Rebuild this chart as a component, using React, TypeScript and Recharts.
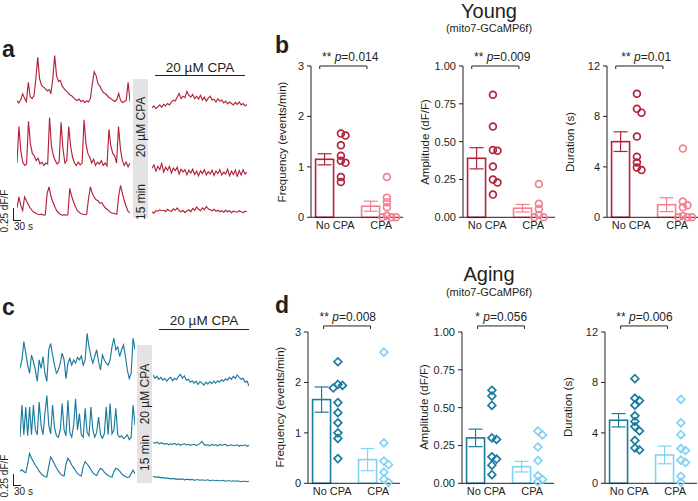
import React from 'react'
import { ComposedChart, LineChart, Line, Bar, Scatter, ErrorBar, XAxis, YAxis, ReferenceLine } from 'recharts'

const FONT = 'Arial, "Liberation Sans", Helvetica, sans-serif'
const INK = '#231f20'
const RED = '#b5213a'
const PINK = '#f2818f'
const TEAL = '#1b7b9e'
const SKY = '#80d3f4'

// ---- calcium traces (dF/F above resting level, one sample ~ every 7 s) ----
const youngBefore1 = [0.10,0.05,0.12,0.24,0.15,0.08,0.48,0.18,0.14,0.20,0.55,1.00,0.55,0.42,0.38,0.35,0.30,0.33,0.25,0.55,1.04,0.62,0.50,0.52,0.40,0.35,0.30,0.27,0.22,0.20,0.16,0.12,0.10,0.13,0.08,0.10,0.06,0.09,0.07,0.15,0.45,0.70,0.62,0.45,0.40,0.32,0.26,0.24,0.20,0.16,0.14,0.10,0.08,0.12,0.25,0.10,0.06,0.08,0.10,0.48,0.08]
const youngBefore2 = [0.10,0.86,0.35,0.12,0.05,0.08,0.97,0.50,0.30,0.25,0.15,0.20,0.08,0.12,0.05,0.10,0.08,1.05,0.45,0.25,0.15,0.08,0.12,0.95,0.40,0.10,0.15,0.86,0.45,0.22,0.10,0.05,0.12,0.06,0.10,1.00,0.50,0.30,0.22,0.10,0.18,0.05,0.12,0.08,0.15,0.05,0.10,0.04,0.80,0.45,0.30,0.25,0.10,0.86,0.40,0.15,0.05,0.12,0.02,0.10]
const youngBefore3 = [0.15,0.38,0.20,0.10,0.38,0.30,0.22,0.15,0.10,0.06,0.04,0.02,0.01,0.02,0.00,0.01,0.45,0.59,0.40,0.28,0.18,0.10,0.05,0.02,0.00,0.01,0.00,0.01,0.56,0.40,0.28,0.18,0.10,0.06,0.03,0.02,0.01,0.02,0.35,0.59,0.45,0.38,0.32,0.30,0.25,0.26,0.20,0.15,0.12,0.08,0.05,0.04,0.03,0.02,0.40,0.62,0.45,0.30,0.18,0.08,0.05]
const youngAfter1 = [-0.04,0.00,-0.06,-0.02,0.02,-0.03,0.03,0.00,0.05,0.02,0.08,0.12,0.10,0.18,0.26,0.15,0.20,0.17,0.30,0.22,0.18,0.24,0.15,0.20,0.14,0.22,0.12,0.18,0.10,0.16,0.20,0.12,0.14,0.08,0.15,0.10,0.12,0.06,0.10,0.04,0.08,0.05,0.02,0.07,0.03,0.08,0.02,0.05,0.00,0.03]
const youngAfter2 = [0.08,0.15,0.02,0.12,0.05,0.18,0.00,0.10,0.04,0.12,-0.02,0.08,0.03,0.10,-0.04,0.06,0.00,0.05,-0.06,0.04,-0.02,0.06,-0.05,0.02,-0.08,0.03,-0.03,0.05,-0.06,0.01,-0.04,0.04,-0.07,0.02,-0.03,0.05,-0.06,0.00,-0.04,0.06,-0.08,0.02,-0.05,0.04,-0.09,0.03,-0.06,0.05,-0.04,0.00]
const youngAfter3 = [0.00,-0.03,0.02,0.01,0.04,0.02,0.03,0.00,0.05,0.02,0.01,0.06,0.03,0.08,0.02,0.00,0.03,-0.02,0.02,0.04,0.00,0.07,0.03,0.10,0.05,0.02,0.08,0.04,0.11,0.06,0.04,0.02,0.05,0.01,0.03,0.00,0.02,-0.01,0.03,0.00,0.02,-0.02,0.01,0.00,-0.01,0.02,0.00,-0.02,0.01,0.00]

const agingBefore1 = [0.24,0.42,0.80,0.56,0.31,0.14,0.52,0.38,0.21,-0.03,0.42,0.24,0.49,0.14,-0.03,0.63,0.76,0.52,0.31,0.14,0.21,0.35,0.56,0.42,0.03,0.35,0.45,0.31,0.42,0.35,0.47,0.42,0.50,0.31,0.42,0.97,0.69,0.49,0.35,0.49,0.63,0.38,0.21,0.52,0.42,0.35,0.31,0.42,0.69,0.87,0.63,0.69,0.49,0.63,0.73,0.49,0.21,0.03,0.14,0.87,0.63]
const agingBefore2 = [0.05,0.72,0.10,0.68,0.08,0.68,0.10,0.72,0.20,0.10,0.78,0.30,0.10,0.55,0.92,0.30,0.12,0.72,0.25,0.08,0.05,0.20,0.75,0.20,0.08,0.82,0.15,0.05,0.30,0.85,0.20,0.54,0.10,0.05,0.65,0.15,0.08,0.68,0.20,0.05,0.15,0.47,0.10,0.03,0.12,0.68,0.10,0.75,0.12,0.20,0.65,0.10,0.05,0.08,0.02,0.05,0.10,0.00,0.05,0.72,0.30]
const agingBefore3 = [0.15,0.18,0.14,0.12,0.30,0.52,0.42,0.35,0.28,0.22,0.15,0.10,0.06,0.04,0.03,0.25,0.45,0.38,0.30,0.22,0.15,0.10,0.06,0.05,0.30,0.42,0.36,0.28,0.22,0.16,0.10,0.07,0.05,0.25,0.35,0.30,0.25,0.18,0.12,0.08,0.06,0.15,0.21,0.18,0.13,0.09,0.06,0.04,0.03,0.14,0.21,0.19,0.15,0.10,0.06,0.04,0.02,0.03,0.10,0.17,0.10]
const agingAfter1 = [0.17,0.10,0.14,0.08,0.12,0.06,0.10,0.04,0.09,0.12,0.05,0.10,0.07,0.14,0.18,0.10,0.15,0.06,0.08,0.02,0.05,0.00,0.04,-0.03,0.03,0.00,-0.04,0.02,-0.02,0.03,-0.01,0.04,0.00,0.05,0.02,0.07,0.04,0.09,0.06,0.12,0.08,0.14,0.10,0.17,0.12,0.08,0.10,0.02,0.04,-0.06]
const agingAfter2 = [0.06,0.04,0.07,0.03,0.05,0.04,0.02,0.04,0.01,0.03,0.02,0.04,0.01,0.03,0.00,0.02,0.03,0.01,0.02,0.00,0.01,0.02,0.00,0.01,0.04,0.08,0.02,0.00,0.01,-0.01,0.02,0.00,0.01,-0.01,0.02,0.00,0.01,0.02,-0.01,0.00,0.01,-0.01,0.00,0.01,-0.02,0.00,-0.01,0.01,-0.02,0.00]
const agingAfter3 = [0.10,0.09,0.08,0.09,0.07,0.08,0.06,0.07,0.06,0.05,0.06,0.05,0.04,0.05,0.04,0.05,0.03,0.04,0.04,0.03,0.04,0.02,0.03,0.03,0.02,0.03,0.02,0.02,0.03,0.01,0.02,0.02,0.01,0.02,0.01,0.01,0.02,0.00,0.01,0.01,0.00,0.01,0.00,0.01,0.00,-0.01,0.00,0.00,-0.01,0.00]

// ---- summary stats ----
const groups = ['No CPA', 'CPA']

const youngFreqNo = [1.66, 1.62, 1.43, 1.22, 1.12, 1.08, 0.8, 0.7]
const youngFreqCpa = [0.8, 0.39, 0.3, 0.2, 0.03, 0, 0, 0]
const youngFreqMean = [1.15, 0.22]
const youngFreqSem = [0.11, 0.1]

const youngAmpNo = [0.81, 0.6, 0.445, 0.44, 0.335, 0.25, 0.23, 0.15]
const youngAmpCpa = [0.22, 0.09, 0.055, 0.015, 0, 0]
const youngAmpMean = [0.39, 0.06]
const youngAmpSem = [0.07, 0.025]

const youngDurNo = [9.8, 8.6, 8.3, 6.4, 4.8, 4.35, 3.95, 3.75]
const youngDurCpa = [5.45, 1.25, 0.95, 0.8, 0.1, 0, 0, 0]
const youngDurMean = [6.0, 1.0]
const youngDurSem = [0.78, 0.55]

const agingFreqNo = [2.41, 1.96, 1.94, 1.89, 1.6, 1.4, 1.2, 1.0, 0.89, 0.49]
const agingFreqCpa = [2.6, 0.8, 0.44, 0.37, 0.22, 0.08, 0.02]
const agingFreqMean = [1.66, 0.47]
const agingFreqSem = [0.25, 0.22]

const agingAmpNo = [0.615, 0.577, 0.515, 0.3, 0.29, 0.175, 0.16, 0.12, 0.057]
const agingAmpCpa = [0.345, 0.32, 0.24, 0.15, 0.05, 0.025, 0.01]
const agingAmpMean = [0.3, 0.11]
const agingAmpSem = [0.058, 0.035]

const agingDurNo = [8.3, 6.75, 6.55, 6.2, 5.35, 4.9, 4.5, 4.15, 3.4, 2.8, 2.65]
const agingDurCpa = [6.65, 4.8, 3.86, 2.75, 2.6, 1.83, 1.65, 0.55, 0.08]
const agingDurMean = [5.0, 2.25]
const agingDurSem = [0.53, 0.7]

const freqTicks = [0, 1, 2, 3]
const ampTicks = [0, 0.25, 0.5, 0.75, 1]
const durTicks = [0, 4, 8, 12]

// ---- layout helpers ----
const PX = 48 // px per 1 dF/F (scale bar 0.25 dF/F ~ 12 px)
const PLOT_W = 92
const PLOT_H = 151.3
const GROUP_X = [1.05, 3.05]
const BAR_OFF = -0.45
const PT_OFF = 0.25
const BAR_W = 18

function Txt({ x, y, size = 11, anchor = 'start', bold = false, color = INK, children }: any) {
  const shift = anchor === 'middle' ? 'translateX(-50%)' : anchor === 'end' ? 'translateX(-100%)' : undefined
  return (
    <div style={{ position: 'absolute', left: x, top: y - 0.8465 * size, fontSize: size, lineHeight: 1, fontWeight: bold ? 700 : 400,
      color, whiteSpace: 'nowrap', transform: shift, fontFamily: FONT }}>{children}</div>
  )
}

function VTxt({ x, y, size = 11, color = INK, children }: any) {
  return (
    <div style={{ position: 'absolute', left: x, top: y, fontSize: size, lineHeight: 1, color, whiteSpace: 'nowrap',
      transform: 'translate(-50%,-50%) rotate(-90deg)', fontFamily: FONT }}>{children}</div>
  )
}

function Trace({ values, color, left, width, base }: any) {
  const lo = Math.min(...values) - 0.03
  const hi = Math.max(...values) + 0.03
  const height = (hi - lo) * PX
  const data = values.map((v: number, i: number) => ({ i, v }))
  return (
    <div style={{ position: 'absolute', left, top: base - hi * PX, width, height }}>
      <LineChart width={width} height={height} data={data} margin={{ top: 0, right: 0, bottom: 0, left: 0 }}>
        <XAxis dataKey="i" type="number" domain={[0, values.length - 1]} hide />
        <YAxis type="number" domain={[lo, hi]} hide />
        <Line type="linear" dataKey="v" stroke={color} strokeWidth={1.15} dot={false} isAnimationActive={false} />
      </LineChart>
    </div>
  )
}

// nudge overlapping points sideways (deterministic beeswarm, overlap allowed a little)
function swarm(vals: number[], max: number, center: number) {
  const placed: { x: number; y: number }[] = []
  ;[...vals].sort((a, b) => b - a).forEach(v => {
    const steps = [0, 0.2, -0.2, 0.4]
    const ok = (s: number) => placed.every(p => {
      const dx = (p.x - (center + s)) * (PLOT_W / 4)
      const dy = (p.y - v) / max * PLOT_H
      return Math.hypot(dx, dy) > 4.5
    })
    const off = steps.find(ok) ?? 0.1
    placed.push({ x: center + off, y: v })
  })
  return placed
}

function Stat({ axisX, plotTop, ticks, fmt, label, labelDx, no, cpa, mean, sem, dark, light, marker, p, stars, bracket }: any) {
  const max = ticks[ticks.length - 1]
  const barData = [
    { x: GROUP_X[0] + BAR_OFF, y: mean[0], eDark: sem[0] },
    { x: GROUP_X[1] + BAR_OFF, y: mean[1], eLight: sem[1] },
  ]
  const ptsNo = swarm(no, max, GROUP_X[0] + PT_OFF)
  const ptsCpa = swarm(cpa, max, GROUP_X[1] + PT_OFF)
  const shape = (color: string) => (s: any) => marker === 'circle'
    ? <circle cx={s.cx} cy={s.cy} r={3.4} fill="none" stroke={color} strokeWidth={1.7} />
    : <path d={`M${s.cx},${s.cy - 3.9}L${s.cx + 3.9},${s.cy}L${s.cx},${s.cy + 3.9}L${s.cx - 3.9},${s.cy}Z`} fill="none" stroke={color} strokeWidth={1.7} />
  const barShape = (s: any) => {
    const color = s.payload && s.payload.eDark != null ? dark : light
    const cx = s.x + s.width / 2
    return <rect x={cx - BAR_W / 2} y={s.y} width={BAR_W} height={Math.max(0, s.height)} fill="#fff" stroke={color} strokeWidth={1.6} />
  }
  const by = max * bracket.y
  const tk = max * 0.02
  const tickStyle = { fill: INK, fontSize: 11, fontFamily: FONT }
  return (
    <>
      <div style={{ position: 'absolute', left: axisX - 40, top: plotTop - 20 }}>
        <ComposedChart width={40 + PLOT_W + 3} height={20 + PLOT_H + 22} data={barData} margin={{ top: 20, right: 3, bottom: 0, left: 0 }}>
          <XAxis type="number" dataKey="x" domain={[0, 4]} ticks={GROUP_X} height={22} tickSize={0} tickMargin={4}
            tickFormatter={(v: number) => groups[GROUP_X.findIndex(g => Math.abs(g - v) < 0.01)]}
            tick={tickStyle} axisLine={{ stroke: INK, strokeWidth: 1 }} tickLine={false} allowDataOverflow />
          <YAxis type="number" domain={[0, max]} ticks={ticks} width={40} tickSize={4} tickMargin={3}
            tickFormatter={fmt} tick={tickStyle} axisLine={{ stroke: INK, strokeWidth: 1 }} tickLine={{ stroke: INK }} />
          <Bar dataKey="y" barSize={BAR_W} shape={barShape} isAnimationActive={false}>
            <ErrorBar dataKey="eDark" direction="y" width={7} stroke={dark} strokeWidth={1.2} />
            <ErrorBar dataKey="eLight" direction="y" width={7} stroke={light} strokeWidth={1.2} />
          </Bar>
          <Scatter data={ptsNo} dataKey="y" shape={shape(dark)} isAnimationActive={false} />
          <Scatter data={ptsCpa} dataKey="y" shape={shape(light)} isAnimationActive={false} />
          <ReferenceLine segment={[{ x: bracket.x0, y: by }, { x: bracket.x1, y: by }]} stroke={INK} strokeWidth={1} ifOverflow="visible" />
          <ReferenceLine segment={[{ x: bracket.x0, y: by }, { x: bracket.x0, y: by - tk }]} stroke={INK} strokeWidth={1} ifOverflow="visible" />
          <ReferenceLine segment={[{ x: bracket.x1, y: by }, { x: bracket.x1, y: by - tk }]} stroke={INK} strokeWidth={1} ifOverflow="visible" />
        </ComposedChart>
      </div>
      <VTxt x={axisX + labelDx} y={plotTop + PLOT_H / 2} size={11.5}>{label}</VTxt>
      <Txt x={axisX + 39.5} y={plotTop - 5 - (bracket.y > 1 ? 6 : 0)} size={12} anchor="middle">
        {stars} <i>p</i>={p}
      </Txt>
    </>
  )
}

const fmtInt = (v: number) => String(v)
const fmtAmp = (v: number) => v.toFixed(2)

export default function App() {
  const topB = { x0: 0.38, x1: 2.43, y: 1 }
  const botB = { x0: 0.68, x1: 2.72, y: 1.04 }
  return (
    <div style={{ position: 'absolute', left: 0, top: 0, width: 698, height: 501, overflow: 'hidden', background: '#fff', fontFamily: FONT }}>
      {/* panel a */}
      <Txt x={2} y={57} size={23} bold>a</Txt>
      <Trace values={youngBefore1} color={RED} left={17} width={113} base={105} />
      <Trace values={youngBefore2} color={RED} left={17} width={113} base={168.3} />
      <Trace values={youngBefore3} color={RED} left={17} width={113} base={215} />
      <Trace values={youngAfter1} color={RED} left={152} width={95} base={106} />
      <Trace values={youngAfter2} color={RED} left={152} width={95} base={171.7} />
      <Trace values={youngAfter3} color={RED} left={152} width={95} base={211.7} />
      <div style={{ position: 'absolute', left: 133, top: 79, width: 15, height: 139, background: '#e3e3e3' }} />
      <VTxt x={141} y={127} size={12}>20 µM CPA</VTxt>
      <VTxt x={141} y={202} size={12}>15 min</VTxt>
      <Txt x={200} y={72} size={13.5} anchor="middle">20 µM CPA</Txt>
      <div style={{ position: 'absolute', left: 155, top: 75, width: 90, height: 1.2, background: INK }} />
      <div style={{ position: 'absolute', left: 12.5, top: 208, width: 1, height: 12, background: INK }} />
      <div style={{ position: 'absolute', left: 12.5, top: 219.5, width: 8.5, height: 1, background: INK }} />
      <VTxt x={5} y={211} size={10}>0.25 dF/F</VTxt>
      <Txt x={14} y={230} size={10}>30 s</Txt>

      {/* panel c */}
      <Txt x={2} y={315} size={23} bold>c</Txt>
      <Trace values={agingBefore1} color={TEAL} left={20} width={115} base={380} />
      <Trace values={agingBefore2} color={TEAL} left={20} width={115} base={439.3} />
      <Trace values={agingBefore3} color={TEAL} left={20} width={115} base={478.3} />
      <Trace values={agingAfter1} color={TEAL} left={153} width={96} base={383.3} />
      <Trace values={agingAfter2} color={TEAL} left={153} width={96} base={445} />
      <Trace values={agingAfter3} color={TEAL} left={153} width={96} base={481.7} />
      <div style={{ position: 'absolute', left: 137, top: 345, width: 15, height: 138, background: '#e3e3e3' }} />
      <VTxt x={145} y={394} size={12}>20 µM CPA</VTxt>
      <VTxt x={145} y={453} size={12}>15 min</VTxt>
      <Txt x={204} y={325} size={13.5} anchor="middle">20 µM CPA</Txt>
      <div style={{ position: 'absolute', left: 159, top: 328.5, width: 90, height: 1.2, background: INK }} />
      <div style={{ position: 'absolute', left: 12.8, top: 474, width: 1, height: 11, background: INK }} />
      <div style={{ position: 'absolute', left: 12.8, top: 484.5, width: 8, height: 1, background: INK }} />
      <VTxt x={5} y={476} size={10}>0.25 dF/F</VTxt>
      <Txt x={14} y={495} size={10}>30 s</Txt>

      {/* panel b */}
      <Txt x={489} y={18} size={20} anchor="middle">Young</Txt>
      <Txt x={489} y={32} size={11} anchor="middle">(mito7-GCaMP6f)</Txt>
      <Txt x={275} y={53} size={23} bold>b</Txt>
      <Stat axisX={310.7} plotTop={66} ticks={freqTicks} fmt={fmtInt} label="Frequency (events/min)" labelDx={-28}
        no={youngFreqNo} cpa={youngFreqCpa} mean={youngFreqMean} sem={youngFreqSem} dark={RED} light={PINK}
        marker="circle" stars="**" p="0.014" bracket={topB} />
      <Stat axisX={462.7} plotTop={66} ticks={ampTicks} fmt={fmtAmp} label="Amplitude (dF/F)" labelDx={-37}
        no={youngAmpNo} cpa={youngAmpCpa} mean={youngAmpMean} sem={youngAmpSem} dark={RED} light={PINK}
        marker="circle" stars="**" p="0.009" bracket={topB} />
      <Stat axisX={606.7} plotTop={66} ticks={durTicks} fmt={fmtInt} label="Duration (s)" labelDx={-36}
        no={youngDurNo} cpa={youngDurCpa} mean={youngDurMean} sem={youngDurSem} dark={RED} light={PINK}
        marker="circle" stars="**" p="0.01" bracket={topB} />

      {/* panel d */}
      <Txt x={489} y={281} size={20} anchor="middle">Aging</Txt>
      <Txt x={489} y={296} size={11} anchor="middle">(mito7-GCaMP6f)</Txt>
      <Txt x={275} y={313} size={23} bold>d</Txt>
      <Stat axisX={308.3} plotTop={331.7} ticks={freqTicks} fmt={fmtInt} label="Frequency (events/min)" labelDx={-27}
        no={agingFreqNo} cpa={agingFreqCpa} mean={agingFreqMean} sem={agingFreqSem} dark={TEAL} light={SKY}
        marker="diamond" stars="**" p="0.008" bracket={botB} />
      <Stat axisX={461.7} plotTop={331.7} ticks={ampTicks} fmt={fmtAmp} label="Amplitude (dF/F)" labelDx={-37}
        no={agingAmpNo} cpa={agingAmpCpa} mean={agingAmpMean} sem={agingAmpSem} dark={TEAL} light={SKY}
        marker="diamond" stars="*" p="0.056" bracket={botB} />
      <Stat axisX={605} plotTop={331.7} ticks={durTicks} fmt={fmtInt} label="Duration (s)" labelDx={-36}
        no={agingDurNo} cpa={agingDurCpa} mean={agingDurMean} sem={agingDurSem} dark={TEAL} light={SKY}
        marker="diamond" stars="**" p="0.006" bracket={botB} />
    </div>
  )
}
